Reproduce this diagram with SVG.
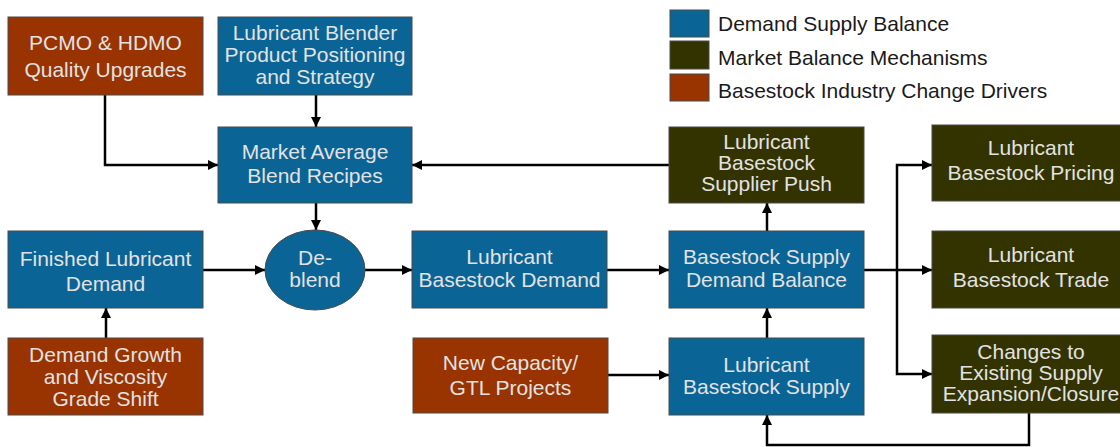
<svg xmlns="http://www.w3.org/2000/svg" width="1120" height="447" viewBox="0 0 1120 447">
<style>
.box{stroke:#4a4a4a;stroke-width:1}
.blue{fill:#0a6496}
.brown{fill:#993300}
.olive{fill:#333300}
.t{font-family:"Liberation Sans",Arial,sans-serif;font-size:21px;fill:#e2e2e2;text-anchor:middle}
.lg{font-family:"Liberation Sans",Arial,sans-serif;font-size:21px;fill:#1a1a1a}
.c{fill:none;stroke:#000;stroke-width:2.5;marker-end:url(#ah)}
</style>
<defs>
<marker id="ah" markerUnits="userSpaceOnUse" markerWidth="12" markerHeight="12" refX="10" refY="5" orient="auto">
<path d="M0,0 L10,5 L0,10 z" fill="#000"/>
</marker>
</defs>
<rect width="1120" height="447" fill="#fff"/>

<g id="legend">
<rect class="box blue" x="670" y="10" width="39" height="27"/>
<rect class="box olive" x="670" y="41" width="39" height="28"/>
<rect class="box brown" x="670" y="74" width="39" height="27"/>
<text class="lg" x="718" y="31">Demand Supply Balance</text>
<text class="lg" x="718" y="65">Market Balance Mechanisms</text>
<text class="lg" x="718" y="98">Basestock Industry Change Drivers</text>
</g>

<g id="connectors">
<path class="c" d="M105,95 V165 H218"/>
<path class="c" d="M316,95 V127"/>
<path class="c" d="M669,165 H412"/>
<path class="c" d="M316,203 V230"/>
<path class="c" d="M203,270 H265"/>
<path class="c" d="M365,270 H412"/>
<path class="c" d="M607,270 H669"/>
<path class="c" d="M767,231 V203"/>
<path class="c" d="M767,338 V308"/>
<path class="c" d="M608,375 H669"/>
<path class="c" d="M106,338 V308"/>
<path class="c" d="M864,270 H932"/>
<path class="c" d="M897,270 V165 H932"/>
<path class="c" d="M897,270 V374 H932"/>
<path class="c" d="M1029,413 V445 H767 V415"/>
</g>

<g id="pcmo">
<rect class="box brown" x="8" y="17" width="195" height="78"/>
<text class="t" x="105.5" y="50">PCMO &amp; HDMO</text>
<text class="t" x="105.5" y="77">Quality Upgrades</text>
</g>
<g id="blender">
<rect class="box blue" x="218" y="17" width="194" height="78"/>
<text class="t" x="315" y="40">Lubricant Blender</text>
<text class="t" x="315" y="62">Product Positioning</text>
<text class="t" x="315" y="84">and Strategy</text>
</g>
<g id="market-average">
<rect class="box blue" x="218" y="127" width="194" height="76"/>
<text class="t" x="315" y="159">Market Average</text>
<text class="t" x="315" y="183">Blend Recipes</text>
</g>
<g id="supplier-push">
<rect class="box olive" x="669" y="127" width="195" height="76"/>
<text class="t" x="766.5" y="149">Lubricant</text>
<text class="t" x="766.5" y="170">Basestock</text>
<text class="t" x="766.5" y="191">Supplier Push</text>
</g>
<g id="pricing">
<rect class="box olive" x="932" y="125" width="198" height="76"/>
<text class="t" x="1031" y="155">Lubricant</text>
<text class="t" x="1031" y="180">Basestock Pricing</text>
</g>
<g id="finished-demand">
<rect class="box blue" x="8" y="231" width="195" height="77"/>
<text class="t" x="105.5" y="266">Finished Lubricant</text>
<text class="t" x="105.5" y="291">Demand</text>
</g>
<g id="demand-growth">
<rect class="box brown" x="8" y="338" width="195" height="77"/>
<text class="t" x="105.5" y="362">Demand Growth</text>
<text class="t" x="105.5" y="384">and Viscosity</text>
<text class="t" x="105.5" y="406">Grade Shift</text>
</g>
<g id="deblend">
<ellipse class="box blue" cx="315" cy="270" rx="50" ry="40"/>
<text class="t" x="315" y="265">De-</text>
<text class="t" x="315" y="287">blend</text>
</g>
<g id="basestock-demand">
<rect class="box blue" x="412" y="231" width="195" height="77"/>
<text class="t" x="509.5" y="264">Lubricant</text>
<text class="t" x="509.5" y="287">Basestock Demand</text>
</g>
<g id="balance">
<rect class="box blue" x="669" y="231" width="195" height="77"/>
<text class="t" x="766.5" y="264">Basestock Supply</text>
<text class="t" x="766.5" y="287">Demand Balance</text>
</g>
<g id="new-capacity">
<rect class="box brown" x="413" y="338" width="195" height="75"/>
<text class="t" x="510.5" y="370">New Capacity/</text>
<text class="t" x="510.5" y="395">GTL Projects</text>
</g>
<g id="supply">
<rect class="box blue" x="669" y="338" width="195" height="77"/>
<text class="t" x="766.5" y="372">Lubricant</text>
<text class="t" x="766.5" y="394">Basestock Supply</text>
</g>
<g id="trade">
<rect class="box olive" x="932" y="231" width="198" height="77"/>
<text class="t" x="1031" y="262">Lubricant</text>
<text class="t" x="1031" y="287">Basestock Trade</text>
</g>
<g id="changes">
<rect class="box olive" x="932" y="335" width="198" height="78"/>
<text class="t" x="1031" y="359">Changes to</text>
<text class="t" x="1031" y="380">Existing Supply</text>
<text class="t" x="1031" y="401">Expansion/Closure</text>
</g>
</svg>
